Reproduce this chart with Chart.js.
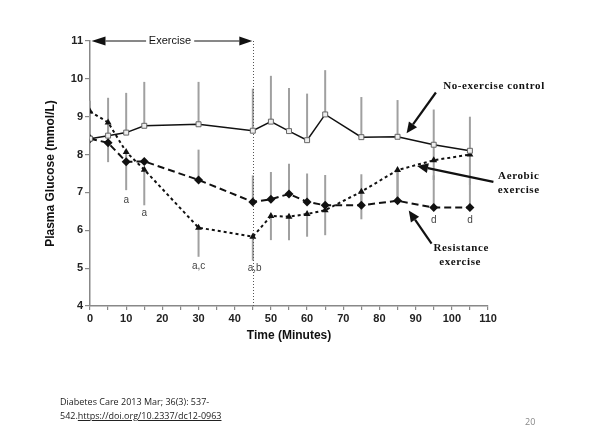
<!DOCTYPE html>
<html>
<head>
<meta charset="utf-8">
<script src="https://cdn.jsdelivr.net/npm/chart.js@4"></script>
<style>
html,body{margin:0;padding:0;background:#fff;}
#wrap{position:relative;width:590px;height:442px;overflow:hidden;}
canvas{position:absolute;left:0;top:0;}
#cite{position:absolute;left:60px;top:395px;font:9px "Open Sans",sans-serif;color:#222;line-height:14px;}
#cite a{color:#222;text-decoration:underline;}
#page{position:absolute;left:525px;top:415px;font:9px "Open Sans",sans-serif;color:#888;}
</style>
</head>
<body>
<div id="wrap">
<canvas id="c" width="590" height="442"></canvas>
<div id="cite">Diabetes Care 2013 Mar; 36(3): 537-<br>542.<a>https://doi.org/10.2337/dc12-0963</a></div>
<div id="page">20</div>
</div>
<script>
const times = [0,5,10,15,30,45,50,55,60,65,75,85,95,105];
const control = [8.42,8.5,8.58,8.76,8.8,8.63,8.87,8.62,8.38,9.06,8.46,8.47,8.26,8.1];
const controlErrUp = [1.0,1.0,1.05,1.16,1.12,1.11,1.21,1.14,1.23,1.17,1.06,0.97,0.93,0.9];
const controlErrDown = [0,0,0,0,0,0,0,0,0,0,0,0,0.93,0.9];
const aerobic = [9.14,8.85,8.07,7.6,6.07,5.83,6.38,6.36,6.43,6.53,7.02,7.59,7.85,8.0];
const aerobicErrDown = [0,1.05,1.01,0.94,0.77,0.63,0.64,0.62,0.6,0.66,0.73,0.8,0,0];
const resistance = [8.42,8.31,7.81,7.82,7.33,6.75,6.82,6.96,6.75,6.66,6.66,6.78,6.6,6.6];
const resistanceErrUp = [0,0,0,0,0.8,0.7,0.72,0.8,0.75,0.8,0.82,0.82,0.85,0.85];
const xTicks = [0,10,20,30,40,50,60,70,80,90,100,110];
const yTicks = [4,5,6,7,8,9,10,11];
const sigLabels = [
  {x:10, y:6.8, t:'a'}, {x:15, y:6.45, t:'a'}, {x:30, y:5.05, t:'a,c'},
  {x:45.5, y:5.0, t:'a,b'}, {x:95, y:6.27, t:'d'}, {x:105, y:6.27, t:'d'}
];
const exerciseStart = 0, exerciseEnd = 45;

const pts = arr => times.map((t,i)=>({x:t, y:arr[i]}));

const errorBars = {
  id:'errorBars',
  beforeDatasetsDraw(chart){
    const {ctx, scales:{x,y}} = chart;
    ctx.save();
    ctx.strokeStyle = '#a0a0a0';
    ctx.lineWidth = 2;
    const seg = (t, a, b) => {
      if (Math.abs(a-b) < 1e-6) return;
      const px = x.getPixelForValue(t);
      ctx.beginPath();
      ctx.moveTo(px, y.getPixelForValue(a));
      ctx.lineTo(px, y.getPixelForValue(b));
      ctx.stroke();
    };
    times.forEach((t,i)=>{
      seg(t, control[i]-controlErrDown[i], control[i]+controlErrUp[i]);
      seg(t, aerobic[i]-aerobicErrDown[i], aerobic[i]);
      seg(t, resistance[i], resistance[i]+resistanceErrUp[i]);
    });
    const px = Math.round(x.getPixelForValue(exerciseEnd))+0.5;
    ctx.strokeStyle = '#555';
    ctx.lineWidth = 1;
    ctx.setLineDash([1,2]);
    ctx.beginPath();
    ctx.moveTo(px, y.getPixelForValue(11));
    ctx.lineTo(px, y.getPixelForValue(4));
    ctx.stroke();
    ctx.restore();
  }
};

function arrow(ctx, x1, y1, x2, y2, lw, hl, hw){
  const ang = Math.atan2(y2-y1, x2-x1);
  const bx = x2 - hl*Math.cos(ang), by = y2 - hl*Math.sin(ang);
  ctx.lineWidth = lw;
  ctx.beginPath(); ctx.moveTo(x1,y1); ctx.lineTo(bx,by); ctx.stroke();
  ctx.beginPath();
  ctx.moveTo(x2,y2);
  ctx.lineTo(bx + hw*Math.sin(ang), by - hw*Math.cos(ang));
  ctx.lineTo(bx - hw*Math.sin(ang), by + hw*Math.cos(ang));
  ctx.closePath(); ctx.fill();
}

const annotations = {
  id:'annotations',
  afterDraw(chart){
    const {ctx, scales:{x,y}} = chart;
    const X = v => x.getPixelForValue(v), Y = v => y.getPixelForValue(v);
    ctx.save();
    ctx.fillStyle = '#444';
    ctx.font = '10px "Liberation Sans", Arial, sans-serif';
    ctx.textAlign = 'center';
    ctx.textBaseline = 'middle';
    sigLabels.forEach(l => ctx.fillText(l.t, X(l.x), Y(l.y)));

    ctx.fillStyle = '#111';
    ctx.strokeStyle = '#111';
    const yy = Y(11);
    ctx.font = '11px "Liberation Sans", Arial, sans-serif';
    ctx.fillText('Exercise', X(22.1), yy);
    arrow(ctx, X(15.5), yy, X(exerciseStart)+1.5, yy, 1, 14, 4.5);
    arrow(ctx, X(28.8), yy, X(exerciseEnd)-0.5, yy, 1, 13, 4.5);

    ctx.font = 'bold 11px "Liberation Serif", "Times New Roman", serif';
    ctx.fillStyle = '#111';
    const spaced = (s, px, py, align) => {
      ctx.letterSpacing = '0.6px';
      ctx.textAlign = align;
      ctx.fillText(s, px, py);
      ctx.letterSpacing = '0px';
    };
    spaced('No-exercise control', X(97.6), Y(9.81), 'left');
    spaced('Aerobic', X(118.5), Y(7.42), 'center');
    spaced('exercise', X(118.5), Y(7.06), 'center');
    spaced('Resistance', X(102.6), Y(5.53), 'center');
    spaced('exercise', X(102.3), Y(5.17), 'center');
    arrow(ctx, X(95.6), Y(9.64), X(87.5), Y(8.56), 2.2, 11, 5);
    arrow(ctx, X(111.5), Y(7.28), X(90.4), Y(7.7), 2.2, 11, 5);
    arrow(ctx, X(94.4), Y(5.65), X(88.1), Y(6.52), 2.2, 11, 5);
    ctx.restore();
  }
};

const tickFont = {family:'"Liberation Sans", Arial, sans-serif', size:11, weight:'bold'};
const titleFont = {family:'"Liberation Sans", Arial, sans-serif', size:12, weight:'bold'};

new Chart(document.getElementById('c'), {
  type:'line',
  data:{
    datasets:[
      {label:'No-exercise control', data:pts(control), borderColor:'#111', borderWidth:1.5,
       pointStyle:'rect', pointRadius:3.5, pointBackgroundColor:'#eee', pointBorderColor:'#666', pointBorderWidth:1},
      {label:'Resistance exercise', data:pts(resistance), borderColor:'#111', borderWidth:2, borderDash:[7,4],
       pointStyle:'rectRot', pointRadius:4.5, pointBackgroundColor:'#111', pointBorderColor:'#111', pointBorderWidth:0},
      {label:'Aerobic exercise', data:pts(aerobic), borderColor:'#111', borderWidth:2, borderDash:[3,3],
       pointStyle:'triangle', pointRadius:4, pointBackgroundColor:'#111', pointBorderColor:'#111', pointBorderWidth:0}
    ]
  },
  options:{
    responsive:false, animation:false,
    layout:{padding:{left:0, right:102, top:41, bottom:90}},
    plugins:{legend:{display:false}, tooltip:{enabled:false}},
    elements:{line:{tension:0}},
    scales:{
      x:{type:'linear', min:0, max:110,
        afterBuildTicks(s){ s.ticks = []; for(let v=0; v<=110; v+=5) s.ticks.push({value:v}); },
        afterFit(s){ s.height = 46; },
        ticks:{font:tickFont, color:'#222', padding:2, autoSkip:false, maxRotation:0,
          callback:v => xTicks.includes(v) ? String(v) : ''},
        grid:{drawOnChartArea:false, drawTicks:true, tickLength:4, color:'#888', lineWidth:1.2},
        border:{color:'#888', width:1.5},
        title:{display:true, text:'Time (Minutes)', font:titleFont, color:'#111', padding:{top:0,bottom:9}}
      },
      y:{type:'linear', min:4, max:11,
        afterBuildTicks(s){ s.ticks = yTicks.map(v=>({value:v})); },
        afterFit(s){ s.width = 90; },
        ticks:{font:tickFont, color:'#222', padding:2},
        grid:{drawOnChartArea:false, drawTicks:true, tickLength:5, color:'#888', lineWidth:1.2},
        border:{color:'#888', width:1.5},
        title:{display:true, text:'Plasma Glucose (mmol/L)', font:titleFont, color:'#111', padding:{top:43,bottom:0}}
      }
    }
  },
  plugins:[errorBars, annotations]
});
</script>
</body>
</html>
